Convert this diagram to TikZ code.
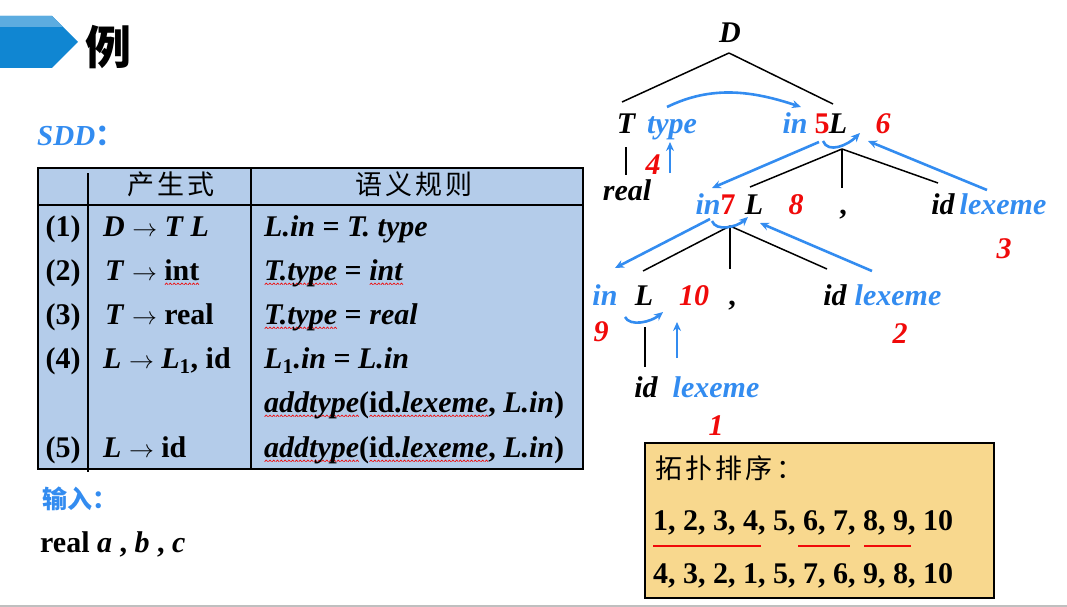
\documentclass[tikz,border=0pt]{standalone}
\usepackage{fontspec}
\setmainfont{Liberation Serif}
\newfontfamily\cjk{Noto Sans CJK SC}
\newfontfamily\cjkwide[LetterSpace=12]{Noto Sans CJK SC}
\usetikzlibrary{arrows.meta}

\definecolor{sddblue}{RGB}{51,140,240}
\definecolor{numred}{RGB}{240,10,10}
\definecolor{cellblue}{RGB}{180,204,234}
\definecolor{boxyellow}{RGB}{248,216,142}
\definecolor{bannerdark}{RGB}{16,134,210}
\definecolor{bannerlight}{RGB}{92,172,224}

\newcommand\bigfont{\fontsize{30}{36}\selectfont\bfseries}
\newsavebox\wavebit
\newcommand\spellwave[1]{\setbox0\hbox{#1}\rlap{\raisebox{-5pt}{\hbox to \wd0{\xleaders\copy\wavebit\hfill}}}\box0\relax}

\begin{document}
\sbox\wavebit{\pgfpicture
  \pgfsetlinewidth{0.7pt}\pgfsetstrokecolor{numred}
  \pgfpathmoveto{\pgfpoint{0pt}{0pt}}
  \pgfpathlineto{\pgfpoint{1.5pt}{1.6pt}}
  \pgfpathlineto{\pgfpoint{3pt}{0pt}}
  \pgfusepath{stroke}
\endpgfpicture}
\begin{tikzpicture}[
            x=1pt, y=-1pt,
            txt/.style={anchor=base, inner sep=0pt, font=\bigfont\itshape},
            blu/.style={txt, text=sddblue},
            num/.style={txt, text=numred},
            row/.style={anchor=base west, inner sep=0pt, font=\bigfont},
            branch/.style={line width=1.5pt},
            flow/.style={draw=sddblue, line width=2.6pt, -{Stealth[length=9pt,width=8pt]}}
            ]
            \useasboundingbox (0,0) rectangle (1067,607);
            % title banner
            \fill[bannerdark] (0,16) -- (52,16) -- (78,42) -- (52,68) -- (0,68) -- cycle;
            \fill[bannerlight] (0,16) -- (52,16) -- (63,27) -- (0,27) -- cycle;
            \node[inner sep=0pt, font=\cjk\bfseries\fontsize{46}{50}\selectfont] (title) at (108,47) {例};
            \node[anchor=base west, inner sep=0pt, text=sddblue, font=\fontsize{29}{34}\selectfont\bfseries\itshape] (sdd) at (37,145) {SDD{\cjk\upshape ：}};

            % table
            \draw[line width=2.5pt, fill=cellblue] (38,168) rectangle (583,469);
            \draw[line width=2pt] (38,205) -- (583,205);
            \draw[line width=2pt] (251,168) -- (251,469);
            \draw[line width=1.2pt] (88,173) -- (88,472);
            \node[inner sep=0pt, font=\cjkwide\fontsize{27}{30}\selectfont] (hprod) at (171,184) {产生式};
            \node[inner sep=0pt, font=\cjkwide\fontsize{27}{30}\selectfont] (hrule) at (414,184) {语义规则};
            \foreach \n/\y in {1/236, 2/280, 3/324, 4/368, 5/457}
                \node[row, anchor=base] (no\n) at (63,\y) {(\n)};
            \node[row] (p1) at (103,236) {\textit{D} $\rightarrow$ \textit{T L}};
            \node[row] (p2) at (105,280) {\textit{T} $\rightarrow$ \spellwave{int}};
            \node[row] (p3) at (105,324) {\textit{T} $\rightarrow$ real};
            \node[row] (p4) at (103,368) {\textit{L} $\rightarrow$ \textit{L}\textsubscript{1}, id};
            \node[row] (p5) at (103,457) {\textit{L} $\rightarrow$ id};
            \node[row] (r1) at (264,236) {\textit{L.in} = \textit{T. type}};
            \node[row] (r2) at (264,280) {\spellwave{\textit{T.type}} = \spellwave{\textit{int}}};
            \node[row] (r3) at (264,324) {\spellwave{\textit{T.type}} = \textit{real}};
            \node[row] (r4) at (264,368) {\textit{L}\textsubscript{1}\textit{.in} = \textit{L.in}};
            \node[row] (r4b) at (264,412) {\spellwave{\textit{addtype}}(\spellwave{id.\textit{lexeme}}, \textit{L.in})};
            \node[row] (r5) at (264,457) {\spellwave{\textit{addtype}}(\spellwave{id.\textit{lexeme}}, \textit{L.in})};

            % input
            \node[anchor=base west, inner sep=0pt, text=sddblue, font=\cjk\bfseries\fontsize{25}{30}\selectfont] (inp) at (42,508) {输入：};
            \node[row] (src) at (40,552) {real \textit{a} , \textit{b} , \textit{c}};

            % annotated parse tree
            \node[txt] (D) at (730,43) {D};
            \node[txt] (T) at (626,133) {T};
            \node[blu] (type) at (672,133) {type};
            \node[blu] (in5) at (795,133) {in};
            \node[num, font=\bigfont] (n5) at (822,133) {5};
            \node[txt] (L5) at (838,133) {L};
            \node[num] (n6) at (883,133) {6};
            \node[txt] (real) at (627,200) {real};
            \node[num] (n4) at (653,174) {4};
            \node[blu] (in7) at (708,214) {in};
            \node[num, font=\bigfont] (n7) at (728,214) {7};
            \node[txt] (L7) at (754,214) {L};
            \node[num] (n8) at (796,214) {8};
            \node[txt, font=\bigfont] (c1) at (843,214) {,};
            \node[txt] (id3) at (943,214) {id};
            \node[blu] (lex3) at (1003,214) {lexeme};
            \node[num] (n3) at (1004,258) {3};
            \node[blu] (in9) at (605,305) {in};
            \node[txt] (L10) at (644,305) {L};
            \node[num] (n10) at (694,305) {10};
            \node[txt, font=\bigfont] (c2) at (732,305) {,};
            \node[txt] (id2) at (835,305) {id};
            \node[blu] (lex2) at (898,305) {lexeme};
            \node[num] (n9) at (601,341) {9};
            \node[num] (n2) at (900,343) {2};
            \node[txt] (id1) at (646,397) {id};
            \node[blu] (lex1) at (716,397) {lexeme};
            \node[num] (n1) at (716,435) {1};

            \draw[branch] ([shift={(-1,10)}]D.base) -- ([shift={(-4,-31)}]T.base);
            \draw[branch] ([shift={(-1,10)}]D.base) -- ([shift={(-5,-29)}]L5.base);
            \draw[branch] ([shift={(0,14)}]T.base) -- ([shift={(-1,-25)}]real.base);
            \foreach \c/\dx/\dy in {L7/-4/-27, c1/-1/-26, id3/-5/-31}
                \draw[branch] ([shift={(4,16)}]L5.base) -- ([shift={(\dx,\dy)}]\c.base);
            \foreach \c/\dx/\dy in {L10/-1/-34, c2/-2/-36, id2/-8/-36}
                \draw[branch] ([shift={(-24,12)}]L7.base) -- ([shift={(\dx,\dy)}]\c.base);
            \draw[branch] ([shift={(1,22)}]L10.base) -- ([shift={(-1,-30)}]id1.base);

            % dependencies
            \draw[flow] ([shift={(-5,-26)}]type.base) .. controls +(45,-22) and +(-48,-16) .. ([shift={(6,-26)}]in5.base);
            \draw[flow] ([shift={(17,-1)}]n4.base) -- ([shift={(-2,9)}]type.base);
            \draw[flow] ([shift={(1,8)}]n5.base) .. controls +(5,13) and +(-12,12) .. ([shift={(22,0)}]L5.base);
            \draw[flow] ([shift={(-3,9)}]n5.base) -- ([shift={(4,-26)}]in7.base);
            \draw[flow] ([shift={(-16,-24)}]lex3.base) -- ([shift={(30,8)}]L5.base);
            \draw[flow] ([shift={(4,7)}]in7.base) .. controls +(4,11) and +(-11,10) .. ([shift={(-6,3)}]L7.base);
            \draw[flow] ([shift={(2,5)}]in7.base) -- ([shift={(10,-37)}]in9.base);
            \draw[flow] ([shift={(-26,-34)}]lex2.base) -- ([shift={(6,9)}]L7.base);
            \draw[flow] ([shift={(-19,12)}]L10.base) .. controls +(5,10) and +(-12,10) .. ([shift={(19,7)}]L10.base);
            \draw[flow] ([shift={(-39,-39)}]lex1.base) -- ([shift={(-17,17)}]n10.base);

            % topological order
            \draw[line width=2.2pt, fill=boxyellow] (645,443) rectangle (994,598);
            \node[anchor=base west, inner sep=0pt, font=\cjkwide\fontsize{27}{30}\selectfont] (topo) at (655,478) {拓扑排序：};
            \node[row] (seq1) at (653,530) {1, 2, 3, 4, 5, 6, 7, 8, 9, 10};
            \node[row] (seq2) at (653,583) {4, 3, 2, 1, 5, 7, 6, 9, 8, 10};
            \draw[line width=2.5pt, numred] ([shift={(0,16)}]seq1.base west) -- ++(108,0);
            \draw[line width=2.5pt, numred] ([shift={(145,16)}]seq1.base west) -- ++(52,0);
            \draw[line width=2.5pt, numred] ([shift={(211,16)}]seq1.base west) -- ++(47,0);

            \draw[gray!50, line width=1.5pt] (0,606) -- (1067,606);
        \end{tikzpicture}
\end{document}
